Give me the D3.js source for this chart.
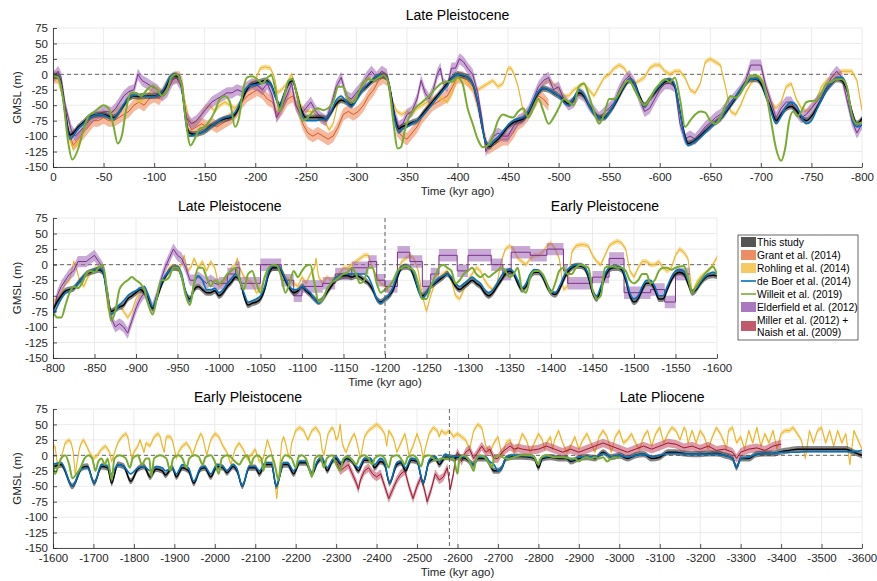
<!DOCTYPE html>
<html>
<head>
<meta charset="utf-8">
<script src="https://cdn.jsdelivr.net/npm/d3@7/dist/d3.min.js"></script>
<style>
  body { margin: 0; background: #fff; }
  svg { font-family: "Liberation Sans", Arial, Helvetica, sans-serif; }
</style>
</head>
<body>
<script>
const W = 877, H = 581;

// series: [kyr ago, GMSL (m)]
const thisStudy = [
  [0,-2],[5,-3],[8,-15],[12,-60],[17,-98],[20,-95],[25,-85],[30,-78],[35,-70],[40,-66],[45,-65],[50,-65],[55,-68],[60,-70],[65,-62],[70,-50],[75,-39],[80,-35],[85,-36],[90,-35],[95,-35],[100,-35],[105,-33],[110,-25],[115,-10],[120,-2],[125,-5],[128,-30],[132,-80],[135,-95],[140,-97],[145,-95],[150,-92],[155,-85],[160,-80],[165,-75],[170,-72],[175,-70],[180,-65],[185,-50],[190,-30],[195,-18],[200,-15],[205,-12],[210,-10],[215,-15],[220,-35],[224,-50],[228,-35],[233,-15],[237,-10],[240,-25],[245,-55],[250,-70],[255,-70],[260,-70],[265,-70],[270,-72],[275,-62],[280,-48],[285,-42],[290,-45],[295,-50],[300,-40],[305,-28],[310,-20],[315,-12],[320,-5],[325,-2],[330,-5],[334,-30],[338,-70],[342,-88],[345,-85],[350,-82],[355,-78],[360,-75],[365,-65],[370,-55],[375,-45],[380,-35],[385,-25],[390,-15],[395,-5],[400,0],[405,-2],[410,-5],[415,-15],[420,-45],[425,-90],[428,-110],[432,-117],[435,-112],[440,-105],[445,-95],[450,-85],[455,-78],[460,-75],[465,-72],[470,-62],[475,-45],[480,-30],[485,-23],[490,-25],[495,-30],[500,-35],[505,-42],[510,-48],[515,-40],[520,-30],[525,-35],[530,-50],[535,-62],[540,-70],[545,-70],[550,-62],[555,-50],[560,-35],[565,-20],[570,-10],[575,-15],[580,-35],[585,-50],[590,-40],[595,-30],[600,-20],[605,-12],[610,-10],[615,-20],[620,-60],[625,-100],[628,-112],[632,-110],[640,-100],[645,-92],[650,-85],[655,-78],[660,-72],[665,-62],[670,-50],[675,-38],[680,-25],[685,-15],[690,-8],[695,-8],[700,-15],[705,-35],[710,-55],[715,-75],[720,-65],[725,-55],[730,-52],[735,-58],[740,-70],[745,-75],[750,-68],[755,-55],[760,-40],[765,-25],[770,-15],[775,-8],[780,-10],[785,-25],[790,-60],[795,-80],
  [800,-72],[805,-60],[810,-50],[815,-42],[820,-40],[825,-38],[830,-30],[835,-22],[840,-15],[845,-12],[850,-10],[855,-8],[860,-12],[865,-40],[870,-75],[875,-72],[880,-68],[885,-65],[890,-55],[895,-50],[900,-45],[905,-40],[910,-45],[915,-55],[920,-70],[925,-55],[930,-35],[935,-20],[940,-10],[945,-5],[950,-5],[955,-20],[960,-45],[965,-55],[970,-40],[975,-35],[980,-40],[985,-45],[990,-45],[995,-42],[1000,-50],[1005,-45],[1010,-35],[1015,-28],[1020,-20],[1025,-25],[1030,-50],[1035,-65],[1040,-62],[1045,-60],[1050,-55],[1055,-40],[1060,-15],[1065,-5],[1070,-5],[1075,-10],[1080,-25],[1085,-38],[1090,-45],[1095,-42],[1100,-35],[1105,-42],[1110,-48],[1115,-55],[1120,-60],[1125,-55],[1130,-45],[1135,-35],[1140,-25],[1145,-20],[1150,-18],[1155,-18],[1160,-20],[1165,-18],[1170,-20],[1175,-25],[1180,-30],[1185,-40],[1190,-55],[1195,-60],[1200,-55],[1205,-50],[1210,-40],[1215,-20],[1220,-5],[1225,-3],[1230,-5],[1235,-20],[1240,-40],[1245,-50],[1250,-45],[1255,-35],[1260,-30],[1265,-25],[1270,-20],[1275,-15],[1280,-23],[1285,-35],[1290,-40],[1295,-35],[1300,-30],[1305,-25],[1310,-30],[1315,-35],[1320,-45],[1325,-50],[1330,-45],[1335,-35],[1340,-25],[1345,-15],[1350,-10],[1355,-15],[1360,-30],[1365,-40],[1370,-35],[1375,-20],[1380,-12],[1385,-12],[1390,-20],[1395,-35],[1400,-45],[1405,-48],[1410,-40],[1415,-25],[1420,-12],[1425,-5],[1430,-2],[1435,-2],[1440,-5],[1445,-20],[1450,-45],[1455,-55],[1460,-40],[1465,-20],[1470,-8],[1475,-5],[1480,-5],[1485,-8],[1490,-25],[1495,-50],[1500,-60],[1505,-55],[1510,-40],[1515,-30],[1520,-30],[1525,-40],[1530,-55],[1535,-55],[1540,-40],[1545,-25],[1550,-15],[1555,-12],[1560,-15],[1565,-30],[1570,-45],[1575,-40],[1580,-30],[1585,-22],[1590,-18],[1595,-17],
  [1600,-18],[1620,-15],[1648,-50],[1672,-20],[1685,-18],[1702,-45],[1720,-18],[1735,-20],[1745,-45],[1760,-15],[1775,-18],[1792,-42],[1810,-22],[1825,-18],[1840,-35],[1855,-22],[1870,-25],[1878,-32],[1895,-20],[1905,-35],[1920,-20],[1935,-25],[1948,-45],[1965,-22],[1975,-20],[1990,-35],[2005,-18],[2020,-20],[2030,-28],[2045,-18],[2055,-25],[2068,-50],[2085,-20],[2100,-20],[2110,-30],[2125,-15],[2140,-15],[2152,-50],[2170,-15],[2180,-15],[2195,-30],[2210,-12],[2225,-12],[2240,-30],[2255,-10],[2265,-5],[2278,-25],[2290,-10],[2300,-5],[2312,-15],[2325,-5],[2340,-10],[2355,-25],[2370,-8],[2385,-8],[2395,-20],[2410,-10],[2420,-15],[2432,-45],[2450,-15],[2460,-12],[2472,-25],[2485,-8],[2500,-10],[2515,-45],[2530,-10],[2545,-5],[2555,-15],[2570,-3],[2580,-3],[2590,-5],[2600,-3],[2620,-5],[2640,-15],[2650,-5],[2670,-5],[2680,-15],[2690,-25],[2700,-25],[2710,-20],[2720,-5],[2740,-2],[2760,-2],[2780,-3],[2790,-5],[2800,-20],[2810,-5],[2830,-3],[2850,-5],[2870,-5],[2880,-10],[2900,-5],[2920,-3],[2940,-5],[2960,5],[2980,-3],[3000,0],[3020,-5],[3040,0],[3060,2],[3080,-5],[3100,-3],[3120,5],[3140,5],[3160,3],[3180,2],[3200,2],[3220,3],[3240,3],[3260,0],[3280,-5],[3290,-20],[3300,-5],[3320,-5],[3340,2],[3360,3],[3380,3],[3400,6],[3420,8],[3440,10],[3460,10],[3480,10],[3500,10],[3520,10],[3540,10],[3560,10],[3580,5],[3600,0]
];

const deBoer = [
  [0,-2],[5,-3],[8,-18],[12,-65],[17,-105],[20,-100],[25,-88],[30,-80],[35,-72],[40,-67],[45,-65],[50,-66],[55,-70],[60,-72],[65,-62],[70,-48],[75,-38],[80,-34],[85,-34],[90,-35],[95,-36],[100,-36],[105,-33],[110,-22],[115,-5],[120,1],[125,-3],[128,-30],[132,-85],[135,-100],[140,-98],[145,-95],[150,-92],[155,-86],[160,-80],[165,-74],[170,-70],[175,-68],[180,-62],[185,-45],[190,-25],[195,-18],[200,-17],[205,-15],[210,-12],[215,-15],[220,-38],[224,-52],[228,-35],[233,-12],[237,-8],[240,-25],[245,-60],[250,-75],[255,-75],[260,-75],[265,-73],[270,-72],[275,-60],[280,-42],[285,-35],[290,-45],[295,-52],[300,-42],[305,-28],[310,-18],[315,-10],[320,-3],[325,-1],[330,-5],[334,-35],[338,-75],[342,-95],[345,-90],[350,-85],[355,-80],[360,-75],[365,-68],[370,-58],[375,-48],[380,-38],[385,-28],[390,-18],[395,-5],[400,0],[405,-1],[410,-5],[415,-15],[420,-45],[425,-90],[428,-110],[432,-115],[435,-110],[440,-102],[445,-92],[450,-82],[455,-75],[460,-72],[465,-70],[470,-60],[475,-42],[480,-28],[485,-22],[490,-25],[495,-30],[500,-35],[505,-45],[510,-50],[515,-38],[520,-25],[525,-32],[530,-50],[535,-65],[540,-70],[545,-72],[550,-62],[555,-48],[560,-32],[565,-18],[570,-8],[575,-15],[580,-38],[585,-52],[590,-40],[595,-28],[600,-18],[605,-10],[610,-8],[615,-18],[620,-62],[625,-105],[628,-115],[632,-112],[640,-102],[645,-94],[650,-86],[655,-78],[660,-72],[665,-60],[670,-48],[675,-36],[680,-24],[685,-14],[690,-8],[695,-7],[700,-10],[705,-35],[710,-60],[715,-80],[720,-68],[725,-52],[730,-45],[735,-50],[740,-68],[745,-80],[750,-75],[755,-58],[760,-40],[765,-25],[770,-15],[775,-6],[780,-5],[785,-20],[790,-70],[795,-85],
  [800,-82],[805,-68],[810,-55],[815,-46],[820,-42],[825,-36],[830,-30],[835,-22],[840,-15],[845,-10],[850,-8],[855,-5],[860,-10],[865,-45],[870,-80],[875,-75],[880,-65],[885,-58],[890,-50],[895,-45],[900,-42],[905,-38],[910,-35],[915,-50],[920,-68],[925,-50],[930,-30],[935,-18],[940,-10],[945,-5],[950,-3],[955,-15],[960,-45],[965,-60],[970,-30],[975,-18],[980,-25],[985,-40],[990,-40],[995,-38],[1000,-45],[1005,-40],[1010,-30],[1015,-22],[1020,-15],[1025,-25],[1030,-45],[1035,-60],[1040,-58],[1045,-55],[1050,-50],[1055,-35],[1060,-10],[1065,-2],[1070,-2],[1075,-8],[1080,-22],[1085,-35],[1090,-40],[1095,-40],[1100,-35],[1105,-40],[1110,-45],[1115,-55],[1120,-62],[1125,-55],[1130,-40],[1135,-30],[1140,-22],[1145,-18],[1150,-15],[1155,-15],[1160,-15],[1165,-15],[1170,-15],[1175,-15],[1180,-20],[1185,-35],[1190,-55],[1195,-62],[1200,-55],[1205,-48],[1210,-35],[1215,-15],[1220,-3],[1225,-2],[1230,-5],[1235,-15],[1240,-40],[1245,-55],[1250,-45],[1255,-35],[1260,-28],[1265,-22],[1270,-18],[1275,-15],[1280,-20],[1285,-30],[1290,-35],[1295,-30],[1300,-25],[1305,-20],[1310,-25],[1315,-30],[1320,-40],[1325,-45],[1330,-40],[1335,-30],[1340,-18],[1345,-10],[1350,-8],[1355,-12],[1360,-25],[1365,-38],[1370,-30],[1375,-15],[1380,-8],[1385,-10],[1390,-18],[1395,-30],[1400,-42],[1405,-45],[1410,-35],[1415,-20],[1420,-8],[1425,-3],[1430,0],[1435,0],[1440,-3],[1445,-15],[1450,-40],[1455,-50],[1460,-35],[1465,-15],[1470,-5],[1475,-3],[1480,-3],[1485,-5],[1490,-20],[1495,-45],[1500,-55],[1505,-50],[1510,-35],[1515,-25],[1520,-25],[1525,-35],[1530,-50],[1535,-50],[1540,-35],[1545,-20],[1550,-10],[1555,-8],[1560,-10],[1565,-25],[1570,-42],[1575,-38],[1580,-28],[1585,-20],[1590,-15],[1595,-12],
  [1600,-14],[1620,-12],[1648,-50],[1670,-22],[1685,-20],[1702,-45],[1720,-15],[1735,-18],[1745,-30],[1760,-15],[1775,-18],[1792,-30],[1810,-20],[1825,-18],[1840,-25],[1855,-18],[1870,-20],[1878,-25],[1895,-20],[1905,-30],[1920,-15],[1935,-20],[1948,-42],[1965,-20],[1975,-18],[1990,-30],[2005,-15],[2020,-18],[2030,-25],[2045,-15],[2055,-22],[2068,-50],[2085,-18],[2100,-18],[2110,-25],[2125,-12],[2140,-12],[2152,-50],[2170,-12],[2180,-12],[2195,-25],[2210,-10],[2225,-10],[2240,-28],[2255,-8],[2265,-5],[2278,-20],[2290,-8],[2300,-3],[2312,-12],[2325,-3],[2340,-8],[2355,-20],[2370,-5],[2385,-5],[2395,-15],[2410,-5],[2420,-12],[2432,-45],[2450,-12],[2460,-10],[2472,-20],[2485,-5],[2500,-8],[2515,-45],[2530,-8],[2545,-2],[2555,-10],[2570,2],[2580,-2],[2600,-2],[2620,-3],[2640,-15],[2650,-3],[2670,-3],[2680,-10],[2690,-15],[2700,-25],[2710,-20],[2720,-3],[2740,0],[2760,0],[2780,-2],[2790,-3],[2800,-15],[2810,-3],[2830,-2],[2850,-3],[2870,-3],[2880,-8],[2900,-3],[2920,-2],[2940,-3],[2960,3],[2980,-2],[3000,0],[3020,-3],[3040,0],[3060,2],[3080,-2],[3100,0],[3120,3],[3140,3],[3160,2],[3180,2],[3200,2],[3220,2],[3240,2],[3260,0],[3280,-5],[3290,-20],[3300,-5],[3320,-3],[3340,2],[3360,3],[3380,3],[3400,5],[3420,5],[3440,5],[3460,6],[3480,6],[3500,6],[3520,6],[3540,6],[3560,6],[3580,6],[3600,8]
];

const willeit = [
  [0,-2],[5,-5],[10,-40],[15,-110],[19,-138],[25,-120],[30,-90],[35,-68],[40,-62],[45,-55],[50,-50],[55,-55],[60,-85],[64,-112],[68,-100],[72,-60],[77,-30],[82,-30],[87,-35],[93,-25],[98,-18],[103,-25],[108,-35],[112,-30],[117,-5],[122,0],[127,-15],[131,-70],[136,-115],[140,-105],[145,-88],[150,-85],[155,-75],[160,-60],[165,-40],[170,-35],[175,-45],[180,-85],[184,-70],[188,-25],[192,-5],[197,-3],[202,-8],[207,-15],[212,-5],[216,-2],[220,-25],[224,-60],[228,-40],[233,-10],[237,-8],[242,-40],[247,-75],[252,-70],[257,-60],[262,-55],[267,-58],[272,-55],[277,-45],[282,-20],[287,-20],[292,-40],[297,-45],[302,-30],[307,-12],[312,-8],[317,-10],[322,-5],[327,-2],[332,-15],[336,-70],[341,-120],[344,-118],[348,-90],[352,-70],[358,-55],[365,-45],[372,-35],[380,-20],[388,-12],[395,-12],[400,-5],[405,-15],[410,-55],[415,-80],[420,-105],[425,-118],[430,-115],[435,-100],[440,-75],[445,-65],[450,-68],[455,-70],[460,-60],[465,-55],[470,-70],[475,-55],[480,-40],[485,-60],[490,-80],[495,-70],[500,-55],[505,-40],[510,-45],[515,-50],[520,-20],[525,-15],[530,-35],[535,-60],[540,-80],[545,-65],[550,-40],[555,-40],[560,-30],[565,-15],[570,-10],[575,-25],[580,-40],[585,-50],[590,-40],[595,-25],[600,-15],[605,-8],[610,-12],[615,-5],[620,-40],[625,-85],[630,-75],[635,-65],[640,-60],[645,-62],[650,-75],[655,-80],[660,-70],[665,-50],[670,-35],[675,-38],[680,-30],[685,-15],[690,-2],[695,-2],[700,-8],[705,-30],[710,-75],[715,-120],[720,-140],[724,-120],[728,-75],[732,-60],[736,-68],[740,-60],[745,-45],[750,-43],[755,-42],[760,-30],[765,-15],[770,-12],[775,-8],[780,-8],[785,-20],[790,-65],[795,-80],
  [800,-78],[805,-85],[810,-85],[815,-65],[820,-45],[825,-35],[830,-38],[835,-30],[840,-15],[845,-10],[850,-12],[855,-5],[860,0],[865,-40],[870,-90],[875,-75],[880,-40],[885,-30],[890,-25],[895,-20],[900,-25],[905,-30],[910,-40],[915,-65],[920,-80],[925,-55],[930,-25],[935,-25],[940,-20],[945,-5],[950,-5],[955,-20],[960,-50],[965,-65],[970,-30],[975,-5],[980,-5],[985,-20],[990,-35],[995,-25],[1000,-30],[1005,-25],[1010,-15],[1015,-10],[1020,-5],[1025,-25],[1030,-40],[1035,-15],[1040,-10],[1045,-30],[1050,-45],[1055,-20],[1060,-5],[1065,0],[1070,-2],[1075,-20],[1080,-45],[1085,-30],[1090,-10],[1095,-20],[1100,-10],[1105,-2],[1110,0],[1115,-30],[1120,-60],[1125,-55],[1130,-40],[1135,-30],[1140,-25],[1145,-20],[1150,-15],[1155,-12],[1160,-5],[1165,-15],[1170,-30],[1175,-25],[1180,-5],[1185,-5],[1190,-30],[1195,-45],[1200,-40],[1205,-35],[1210,-25],[1215,-10],[1220,-5],[1225,-2],[1230,-5],[1235,-10],[1240,-30],[1245,-55],[1250,-55],[1255,-35],[1260,-20],[1265,-5],[1270,0],[1275,-5],[1280,-10],[1285,-30],[1290,-25],[1295,-15],[1300,-10],[1305,-5],[1310,-15],[1315,-20],[1320,-15],[1325,-20],[1330,-15],[1335,-10],[1340,-5],[1345,-10],[1350,-20],[1355,-15],[1360,-5],[1365,-40],[1370,-45],[1375,-20],[1380,-10],[1385,-10],[1390,-15],[1395,-30],[1400,-45],[1405,-30],[1410,-10],[1415,-5],[1420,-15],[1425,-15],[1430,-5],[1435,0],[1440,-2],[1445,-5],[1450,-40],[1455,-55],[1460,-50],[1465,-5],[1470,-3],[1475,-3],[1480,-5],[1485,-5],[1490,-10],[1495,-25],[1500,-30],[1505,-25],[1510,-15],[1515,-15],[1520,-30],[1525,-25],[1530,-10],[1535,-5],[1540,-5],[1545,-8],[1550,-5],[1555,-3],[1560,-2],[1565,-20],[1570,-45],[1575,-35],[1580,-25],[1585,-15],[1590,-8],[1595,-3],
  [1600,-15],[1605,-30],[1612,-20],[1620,-5],[1630,0],[1640,-15],[1648,-37],[1658,-30],[1668,-20],[1678,-5],[1688,0],[1697,-5],[1705,-25],[1712,-10],[1720,-5],[1728,-15],[1735,-5],[1745,-40],[1752,-5],[1765,0],[1780,-5],[1790,-20],[1797,-5],[1810,0],[1820,-15],[1830,-5],[1838,-5],[1843,-35],[1850,-5],[1865,0],[1880,-5],[1890,-25],[1897,-5],[1910,0],[1920,-5],[1930,-20],[1937,-5],[1950,0],[1960,-2],[1970,-15],[1977,-3],[1990,0],[2000,-10],[2010,-30],[2017,-5],[2030,0],[2040,-3],[2050,-10],[2060,-15],[2070,-5],[2080,0],[2090,-15],[2095,-5],[2105,0],[2115,-5],[2120,-25],[2127,-5],[2140,0],[2150,-20],[2157,-40],[2165,-10],[2175,0],[2190,-5],[2200,-20],[2207,-3],[2215,0],[2225,-5],[2235,-25],[2240,-35],[2248,-5],[2260,0],[2270,-20],[2277,-5],[2290,0],[2300,-15],[2310,-25],[2318,-5],[2330,-2],[2340,-8],[2350,-15],[2358,-3],[2370,0],[2380,-5],[2390,-15],[2395,-5],[2410,0],[2420,-5],[2430,-20],[2437,-3],[2450,0],[2460,-5],[2470,-15],[2477,-3],[2490,0],[2500,-5],[2510,-18],[2517,-3],[2530,0],[2540,-5],[2550,-8],[2560,-5],[2570,-5],[2580,-5],[2590,-5],[2600,-30],[2605,-5],[2615,0],[2630,-10],[2640,-25],[2645,-10],[2655,0],[2670,-5],[2680,-15],[2686,-20],[2690,-5],[2700,0],[2720,-5],[2730,-5],[2740,-3],[2760,0],[2780,0],[2790,-3],[2800,-15],[2805,-5],[2820,0],[2840,-3],[2860,-3],[2880,-5],[2890,-5],[2900,-10],[2910,-5],[2920,-3],[2930,-5],[2940,-3],[2950,-5],[2960,-3],[2970,-10],[2980,-5],[2990,-3],[3000,-5]
];

const rohling = [
  [0,-5],[5,-8],[10,-40],[15,-100],[20,-120],[25,-110],[30,-95],[35,-80],[40,-70],[45,-65],[50,-60],[55,-65],[60,-60],[65,-55],[70,-50],[75,-40],[80,-35],[85,-45],[90,-40],[95,-30],[100,-20],[105,-25],[110,-30],[115,-10],[120,0],[125,-5],[130,-40],[135,-75],[140,-80],[145,-70],[150,-55],[155,-50],[160,-60],[165,-50],[170,-45],[175,-50],[180,-55],[185,-45],[190,-25],[195,-15],[200,-10],[205,10],[210,12],[215,10],[219,-5],[222,-30],[226,-25],[231,-15],[236,0],[240,-20],[245,-50],[250,-60],[255,-60],[260,-65],[265,-75],[270,-80],[273,-90],[277,-80],[282,-45],[287,-40],[292,-45],[297,-40],[302,-30],[307,-20],[312,-5],[317,-10],[322,-5],[327,0],[331,-5],[335,-40],[340,-60],[345,-65],[350,-60],[355,-65],[360,-55],[365,-50],[370,-45],[375,-40],[380,-35],[385,-40],[390,-45],[395,-30],[400,-5],[405,-5],[410,-15],[415,-25],[420,-25],[425,-20],[430,-15],[435,-10],[440,-20],[445,-15],[450,10],[453,10],[456,0],[460,-20],[465,-60],[470,-65],[475,-55],[480,-30],[485,-15],[490,-10],[495,-15],[500,-25],[505,-35],[510,-35],[515,-25],[520,-20],[525,-15],[530,-25],[535,-35],[540,-20],[545,-5],[550,0],[555,10],[560,15],[565,10],[570,-5],[575,-15],[580,-10],[585,-5],[590,10],[595,15],[600,15],[605,5],[610,0],[615,5],[620,5],[625,-5],[630,-25],[635,-30],[640,-15],[645,20],[650,25],[655,20],[660,15],[665,-20],[670,-60],[675,-65],[680,-50],[685,-30],[690,-15],[695,-5],[700,-5],[705,-20],[710,-45],[715,-55],[720,-45],[725,-20],[730,-15],[735,-40],[740,-55],[745,-60],[750,-55],[755,-40],[760,-20],[765,-10],[770,-5],[775,0],[780,5],[785,5],[790,5],[795,-10],
  [800,-58],[805,-55],[810,-45],[815,-30],[820,-25],[825,5],[828,-5],[832,-25],[837,-35],[842,-20],[847,-10],[852,-5],[857,-5],[862,-20],[866,-70],[870,-80],[875,-70],[880,-65],[885,-75],[890,-85],[895,-75],[900,-55],[905,-45],[910,-35],[915,-50],[920,-70],[925,-55],[930,-30],[935,-20],[940,-5],[945,-2],[950,-8],[955,0],[958,15],[962,-10],[966,-5],[970,10],[975,-5],[980,5],[985,-10],[990,5],[995,-5],[1000,-35],[1005,-30],[1010,-20],[1015,-5],[1020,0],[1022,10],[1025,-5],[1030,-20],[1035,-25],[1040,-30],[1045,-45],[1050,-40],[1055,-20],[1060,-10],[1065,-5],[1070,-2],[1075,-5],[1080,-20],[1085,-25],[1090,-30],[1095,-35],[1100,-20],[1105,-30],[1110,-15],[1115,-5],[1117,10],[1120,-20],[1125,-30],[1130,-20],[1135,-25],[1140,-20],[1145,-15],[1150,-5],[1155,-5],[1160,0],[1165,5],[1170,10],[1175,15],[1180,15],[1185,-5],[1190,-20],[1195,-30],[1200,-35],[1205,-45],[1210,-40],[1215,-15],[1220,5],[1225,10],[1230,15],[1235,10],[1240,-10],[1245,-50],[1250,-75],[1255,-50],[1260,-30],[1265,-20],[1270,-15],[1275,-10],[1280,-25],[1285,-50],[1290,-55],[1295,-40],[1300,-25],[1305,-15],[1310,-5],[1315,-10],[1320,-25],[1325,-35],[1330,-40],[1335,-30],[1340,5],[1345,25],[1350,30],[1355,25],[1360,10],[1365,5],[1370,0],[1375,10],[1380,15],[1385,15],[1390,20],[1395,30],[1400,35],[1405,25],[1410,10],[1415,-40],[1420,-35],[1425,20],[1430,30],[1435,32],[1440,32],[1445,30],[1450,15],[1455,5],[1460,0],[1465,15],[1470,30],[1475,35],[1480,38],[1485,35],[1490,25],[1495,-10],[1500,-20],[1505,-5],[1510,5],[1515,5],[1520,0],[1525,0],[1530,5],[1535,-5],[1540,-10],[1545,-5],[1550,15],[1555,25],[1560,20],[1565,10],[1570,-45],[1575,-30],[1580,-20],[1585,-15],[1590,-10],[1595,0],
  [1600,12],[1605,15],[1610,-10],[1615,-15],[1620,-5],[1630,20],[1640,25],[1645,20],[1650,5],[1655,-30],[1660,-10],[1665,10],[1670,20],[1675,25],[1680,20],[1690,5],[1700,-5],[1710,0],[1720,10],[1730,15],[1740,5],[1745,-10],[1750,0],[1760,20],[1770,30],[1780,35],[1785,30],[1790,10],[1795,-5],[1800,5],[1810,15],[1815,25],[1820,15],[1825,5],[1830,20],[1840,15],[1850,30],[1860,35],[1865,30],[1870,15],[1875,5],[1880,30],[1890,30],[1895,25],[1900,10],[1905,-5],[1910,5],[1920,15],[1930,20],[1940,10],[1945,0],[1955,20],[1965,35],[1970,30],[1975,15],[1980,0],[1990,25],[2000,35],[2010,30],[2020,15],[2030,5],[2040,-15],[2050,10],[2060,20],[2070,10],[2080,-5],[2090,0],[2100,10],[2110,-10],[2120,-5],[2125,10],[2130,25],[2135,15],[2140,5],[2150,-50],[2153,-70],[2158,-40],[2165,20],[2170,30],[2175,20],[2180,5],[2185,-5],[2190,20],[2200,40],[2210,45],[2220,40],[2230,25],[2240,40],[2250,45],[2260,35],[2265,10],[2270,0],[2280,35],[2290,45],[2295,40],[2300,25],[2305,30],[2310,50],[2315,20],[2320,10],[2325,5],[2330,15],[2340,30],[2345,35],[2350,25],[2355,10],[2360,-5],[2370,30],[2380,40],[2390,45],[2400,50],[2410,45],[2420,35],[2425,15],[2430,40],[2440,30],[2445,20],[2450,5],[2460,20],[2470,35],[2475,20],[2480,0],[2490,15],[2500,35],[2510,15],[2515,-5],[2520,10],[2530,35],[2540,45],[2550,40],[2555,30],[2560,40],[2570,35],[2580,40],[2590,30],[2600,35],[2610,30],[2620,25],[2630,10],[2640,40],[2650,50],[2660,45],[2665,30],[2670,15],[2680,5],[2690,20],[2700,30],[2705,15],[2710,0],[2720,20],[2730,25],[2740,5],[2750,15],[2760,35],[2770,25],[2780,5],[2790,20],[2800,35],[2810,25],[2815,10],[2820,20],[2830,30],[2835,10],[2840,25],[2850,40],[2860,20],[2870,5],[2880,15],[2890,30],[2900,10],[2910,25],[2920,35],[2930,20],[2940,5],[2950,30],[2960,40],[2970,30],[2980,5],[2990,30],[3000,40],[3010,20],[3020,25],[3030,35],[3040,20],[3050,10],[3060,30],[3070,40],[3080,15],[3090,35],[3100,45],[3110,20],[3120,35],[3130,45],[3140,40],[3150,25],[3160,45],[3165,40],[3170,20],[3180,40],[3190,20],[3200,40],[3210,30],[3220,10],[3230,30],[3240,45],[3250,35],[3260,20],[3265,10],[3270,40],[3280,45],[3290,20],[3300,30],[3310,10],[3320,40],[3330,20],[3340,45],[3350,15],[3360,35],[3370,20],[3380,40],[3390,10],[3400,35],[3410,40],[3420,40],[3430,45],[3440,35],[3450,25],[3460,-5],[3470,40],[3480,20],[3490,40],[3500,45],[3510,20],[3520,40],[3530,15],[3540,40],[3550,20],[3560,35],[3570,-15],[3580,40],[3590,25],[3600,10]
];

const grant = [
  [0,-5],[5,-5],[10,-30],[15,-90],[20,-115],[25,-105],[30,-95],[35,-85],[40,-75],[45,-75],[50,-70],[55,-75],[60,-75],[65,-70],[70,-65],[75,-60],[80,-50],[85,-45],[90,-50],[95,-40],[100,-35],[105,-40],[110,-25],[115,-10],[120,-5],[125,-5],[128,-15],[132,-70],[137,-90],[142,-85],[147,-80],[152,-85],[157,-80],[162,-85],[167,-80],[172,-75],[177,-70],[182,-60],[187,-45],[192,-35],[197,-30],[202,-25],[207,-30],[212,-40],[217,-45],[222,-65],[227,-55],[232,-40],[237,-35],[242,-55],[247,-80],[252,-95],[257,-100],[262,-95],[267,-100],[272,-105],[277,-100],[282,-85],[287,-65],[292,-60],[297,-65],[302,-60],[307,-50],[312,-35],[317,-25],[322,-10],[327,-5],[331,-10],[335,-50],[340,-90],[345,-100],[350,-105],[355,-95],[360,-85],[365,-70],[370,-60],[375,-50],[380,-45],[385,-40],[390,-35],[395,-20],[400,-5],[405,-5],[410,-10],[415,-20],[420,-50],[425,-90],[430,-120],[435,-115],[440,-110],[445,-105],[450,-105],[455,-95],[460,-80],[465,-75],[470,-65],[475,-50],[480,-35],[485,-40],[490,-50]
];

const elderfield = [
  [0,-2],[2,-2],[5,5],[8,-5],[12,-50],[18,-90],[22,-100],[28,-90],[33,-80],[38,-70],[43,-65],[48,-62],[53,-60],[58,-62],[62,-55],[66,-45],[70,-35],[75,-28],[80,-25],[84,0],[88,-10],[93,-15],[98,-20],[103,-25],[108,-35],[113,-28],[118,-10],[122,-5],[127,-20],[132,-70],[137,-80],[142,-75],[147,-65],[152,-55],[157,-45],[162,-40],[167,-35],[172,-30],[177,-30],[182,-25],[187,-28],[192,-20],[197,-15],[202,-18],[207,-25],[212,-15],[217,-35],[221,-70],[226,-55],[231,-35],[236,-15],[240,-50],[245,-65],[250,-55],[255,-45],[260,-60],[265,-70],[270,-75],[275,-50],[280,-20],[285,-5],[290,-35],[295,-40],[300,-30],[305,-20],[310,-5],[315,5],[320,-5],[325,5],[330,0],[334,-30],[338,-65],[342,-85],[346,-80],[350,-65],[355,-60],[360,-40],[364,-10],[368,-30],[372,-40],[376,-25],[380,0],[383,10],[386,-15],[390,-20],[394,10],[398,10],[402,25],[406,20],[410,10],[415,0],[420,-30],[425,-80],[428,-125],[432,-110],[436,-100],[440,-95],[445,-100],[450,-100],[455,-85],[460,-75],[465,-70],[470,-60],[475,-40],[480,-20],[485,-10],[490,-5],[495,-25],[500,-20],[505,-40],[510,-50],[515,-45],[520,-30],[525,-35],[530,-50],[535,-60],[540,-70],[545,-62],[550,-55],[555,-45],[560,-25],[565,-10],[570,-2],[575,-15],[580,-40],[585,-60],[590,-55],[595,-40],[600,-25],[605,-15],[610,-15],[615,-20],[620,-80],[625,-105],[630,-100],[635,-105],[640,-95],[645,-85],[650,-78],[655,-70],[660,-65],[665,-55],[670,-45],[675,-35],[680,-25],[685,-10],[690,15],[695,15],[700,15],[705,-20],[710,-45],[715,-70],[720,-55],[725,-45],[730,-45],[735,-60],[740,-70],[745,-65],[750,-55],[755,-45],[760,-35],[765,-20],[770,-5],[775,5],[780,-5],[785,-40],[790,-75],[795,-95],
  [800,-80],[805,-50],[810,-35],[815,-25],[820,-15],[825,-10],[830,5],[835,5],[840,5],[845,10],[850,15],[855,5],[860,-5],[865,-50],[870,-85],[875,-100],[880,-95],[885,-100],[890,-110],[895,-90],[900,-70],[905,-55],[910,-45],[915,-55],[920,-70],[925,-50],[930,-25],[935,-5],[940,10],[945,25],[950,15],[955,10],[960,-5],[965,-25],[970,-25],[975,-20],[980,-25],[985,-30],[990,-25],[995,-30],[1000,-32]
];
// blocky part of the Elderfield record: [start kyr, level]
const elderfieldSteps = [
  [1000,-30],[1010,-15],[1020,-5],[1025,-30],[1050,0],[1075,-25],[1090,-50],[1100,-35],[1125,-30],[1140,-15],[1160,-5],[1180,5],[1190,-25],[1200,-35],[1215,20],[1230,5],[1245,-35],[1255,-15],[1265,15],[1287,-10],[1300,15],[1328,0],[1342,-15],[1352,20],[1375,15],[1395,25],[1415,-10],[1420,-30],[1450,-20],[1470,10],[1488,-45],[1520,-40],[1537,-60],[1550,-15],[1567,-15]
];

const miller = [
  [2300,-10],[2310,-25],[2320,-20],[2330,-15],[2340,-30],[2350,-45],[2355,-55],[2360,-40],[2370,-25],[2380,-20],[2390,-30],[2400,-35],[2410,-30],[2420,-50],[2430,-70],[2440,-55],[2450,-40],[2460,-30],[2470,-25],[2480,-50],[2490,-70],[2500,-50],[2510,-35],[2520,-60],[2525,-75],[2535,-55],[2545,-30],[2555,-40],[2565,-35],[2575,-20],[2582,-55],[2590,-30],[2595,-5],[2600,5],[2610,-10],[2620,5],[2630,10],[2640,-5],[2650,5],[2660,15],[2670,5],[2680,10],[2690,-5],[2700,-5],[2710,5],[2720,10],[2730,15],[2740,10],[2750,12],[2760,10],[2780,8],[2800,10],[2820,15],[2840,10],[2860,5],[2880,10],[2900,5],[2920,10],[2940,15],[2960,20],[2980,15],[3000,10],[3020,5],[3040,10],[3060,15],[3080,10],[3100,15],[3120,20],[3140,18],[3160,12],[3180,15],[3200,10],[3220,15],[3240,8],[3260,10],[3280,5],[3290,-5],[3300,5],[3320,10],[3340,12],[3360,8],[3380,15],[3400,18]
];

const yTicks = d3.range(-150, 76, 25);
const legendLabels = ['This study', 'Grant et al. (2014)', 'Rohling et al. (2014)', 'de Boer et al. (2014)',
  'Willeit et al. (2019)', 'Elderfield et al. (2012)', 'Miller et al. (2012) +|Naish et al. (2009)'];

const series = [
  {data: grant, line: '#dd5a1e', band: '#ee8a5c', half: 10, bandOp: 0.6, lw: 1, curve: d3.curveLinear},
  {data: rohling, line: '#edb120', band: '#f4c24a', half: 4, bandOp: 0.55, lw: 1, curve: d3.curveLinear},
  {data: elderfield, line: '#7e2f8e', band: '#9c62b2', half: 9, bandOp: 0.55, lw: 1, curve: d3.curveLinear},
  {data: elderfieldSteps, line: '#7e2f8e', band: '#9c62b2', half: 10, bandOp: 0.55, lw: 1, curve: d3.curveStepAfter},
  {data: miller, line: '#a2142f', band: '#c0485f', half: 7, bandOp: 0.55, lw: 1, curve: d3.curveLinear},
  {data: thisStudy, line: '#000000', band: '#444444', half: 5, bandOp: 0.65, lw: 1.5, curve: d3.curveMonotoneX},
  {data: deBoer, line: '#0072bd', lw: 1.6, curve: d3.curveMonotoneX},
  {data: willeit, line: '#77ac30', lw: 2, curve: d3.curveMonotoneX}
];

const panels = [
  {t0: 0, t1: 800, left: 53, right: 862, top: 28, bottom: 167, xTicks: d3.range(0, -801, -50),
   titles: [[-400, 'Late Pleistocene']], titleY: 20, vline: null},
  {t0: 800, t1: 1600, left: 53, right: 717, top: 218, bottom: 358, xTicks: d3.range(-800, -1601, -50),
   titles: [[-1013, 'Late Pleistocene'], [-1465, 'Early Pleistocene']], titleY: 211, vline: -1200},
  {t0: 1600, t1: 3600, left: 53, right: 862, top: 409, bottom: 548, xTicks: d3.range(-1600, -3601, -100),
   titles: [[-2082, 'Early Pleistocene'], [-3106, 'Late Pliocene']], titleY: 402, vline: -2580}
];

const svg = d3.select('body').append('svg').attr('width', W).attr('height', H);
const defs = svg.append('defs');

panels.forEach((p, pi) => {
  const x = d3.scaleLinear().domain([-p.t0, -p.t1]).range([p.left, p.right]);
  const y = d3.scaleLinear().domain([-150, 75]).range([p.bottom, p.top]);
  const g = svg.append('g');

  // grid
  g.append('g').selectAll('line').data(p.xTicks).enter().append('line')
    .attr('x1', d => x(d)).attr('x2', d => x(d)).attr('y1', p.top).attr('y2', p.bottom)
    .attr('stroke', '#e6e6e6').attr('stroke-width', 0.8);
  g.append('g').selectAll('line').data(yTicks).enter().append('line')
    .attr('x1', p.left).attr('x2', p.right).attr('y1', d => y(d)).attr('y2', d => y(d))
    .attr('stroke', '#e6e6e6').attr('stroke-width', 0.8);

  defs.append('clipPath').attr('id', 'clip' + pi).append('rect')
    .attr('x', p.left).attr('y', p.top).attr('width', p.right - p.left).attr('height', p.bottom - p.top);
  const plot = g.append('g').attr('clip-path', `url(#clip${pi})`);

  // zero line
  plot.append('line').attr('x1', p.left).attr('x2', p.right).attr('y1', y(0)).attr('y2', y(0))
    .attr('stroke', '#555').attr('stroke-width', 0.9).attr('stroke-dasharray', '4,3');

  series.forEach(s => {
    const data = s.data.filter(d => d[0] >= p.t0 - 60 && d[0] <= p.t1 + 60);
    if (data.length < 2) return;
    if (s.band) {
      plot.append('path').datum(data)
        .attr('d', d3.area().x(d => x(-d[0])).y0(d => y(d[1] - s.half)).y1(d => y(d[1] + s.half)).curve(s.curve))
        .attr('fill', s.band).attr('fill-opacity', s.bandOp).attr('stroke', 'none');
    }
    plot.append('path').datum(data)
      .attr('d', d3.line().x(d => x(-d[0])).y(d => y(d[1])).curve(s.curve))
      .attr('fill', 'none').attr('stroke', s.line).attr('stroke-width', s.lw).attr('stroke-linejoin', 'round');
  });

  if (p.vline !== null) {
    g.append('line').attr('x1', x(p.vline)).attr('x2', x(p.vline)).attr('y1', p.top).attr('y2', p.bottom)
      .attr('stroke', '#555').attr('stroke-width', 0.9).attr('stroke-dasharray', '4,3');
  }

  // axes
  const xAxis = d3.axisBottom(x).tickValues(p.xTicks).tickFormat(d => String(d))
    .tickSizeInner(-4).tickSizeOuter(0).tickPadding(6);
  const ax = g.append('g').attr('transform', `translate(0,${p.bottom})`).call(xAxis);
  const yAxis = d3.axisLeft(y).tickValues(yTicks).tickFormat(d => String(d))
    .tickSizeInner(-4).tickSizeOuter(0).tickPadding(5);
  const ay = g.append('g').attr('transform', `translate(${p.left},0)`).call(yAxis);
  [ax, ay].forEach(a => {
    a.select('.domain').attr('stroke', '#262626').attr('stroke-width', 0.8);
    a.selectAll('.tick line').attr('stroke', '#262626').attr('stroke-width', 0.8);
    a.selectAll('text').attr('fill', '#262626').attr('font-size', 11.5)
      .attr('font-family', '"Liberation Sans", Arial, sans-serif');
  });

  g.append('text').attr('x', (p.left + p.right) / 2).attr('y', p.bottom + 28)
    .attr('text-anchor', 'middle').attr('font-size', 11.5).attr('fill', '#262626').text('Time (kyr ago)');
  g.append('text').attr('transform', `translate(21,${(p.top + p.bottom) / 2}) rotate(-90)`)
    .attr('text-anchor', 'middle').attr('font-size', 11.5).attr('fill', '#262626').text('GMSL (m)');
  p.titles.forEach(t => {
    g.append('text').attr('x', x(t[0])).attr('y', p.titleY).attr('text-anchor', 'middle')
      .attr('font-size', 14).attr('fill', '#000').text(t[1]);
  });
});

// legend
const lg = svg.append('g').attr('transform', 'translate(738,235)');
lg.append('rect').attr('width', 120).attr('height', 105).attr('fill', '#fff')
  .attr('stroke', '#262626').attr('stroke-width', 0.7);
const legendStyle = [
  {type: 'patch', color: '#555555'}, {type: 'patch', color: '#ec8d66'}, {type: 'patch', color: '#f5ca62'},
  {type: 'line', color: '#0072bd'}, {type: 'line', color: '#77ac30'}, {type: 'patch', color: '#a979bd'},
  {type: 'patch', color: '#c25a6d'}
];
const rowY = [7, 20, 33, 46, 59, 72, 91];
legendLabels.forEach((label, i) => {
  const st = legendStyle[i];
  const cy = rowY[i];
  if (st.type === 'patch') {
    lg.append('rect').attr('x', 3).attr('y', cy - 5).attr('width', 15).attr('height', 10).attr('fill', st.color);
  } else {
    lg.append('line').attr('x1', 3).attr('x2', 18).attr('y1', cy).attr('y2', cy)
      .attr('stroke', st.color).attr('stroke-width', 1.6);
  }
  const lines = label.split('|');
  lines.forEach((ln, j) => {
    lg.append('text').attr('x', 19).attr('y', cy + 4 + (j - (lines.length - 1) / 2) * 12)
      .attr('font-size', 10.3).attr('fill', '#000').text(ln);
  });
});
</script>
</body>
</html>
